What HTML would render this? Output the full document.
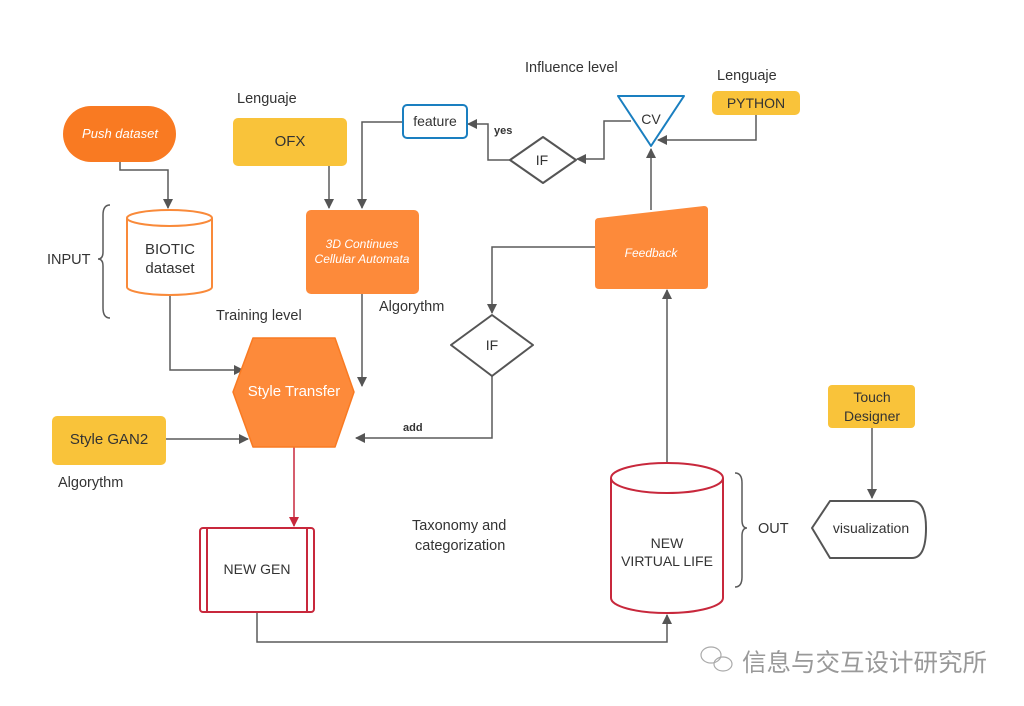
<!DOCTYPE html>
<html><head><meta charset="utf-8"><style>
html,body{margin:0;padding:0;background:#fff;}
svg{display:block;font-family:"Liberation Sans","Noto Sans CJK SC",sans-serif;}
</style></head><body>
<svg width="1024" height="706" viewBox="0 0 1024 706" xmlns="http://www.w3.org/2000/svg">
<defs>
<marker id="a" markerWidth="10" markerHeight="10" refX="9" refY="5" orient="auto" markerUnits="userSpaceOnUse"><path d="M0,0 L10,5 L0,10 z" fill="#555"/></marker>
<marker id="r" markerWidth="10" markerHeight="10" refX="9" refY="5" orient="auto" markerUnits="userSpaceOnUse"><path d="M0,0 L10,5 L0,10 z" fill="#c8283c"/></marker>
</defs>
<rect width="1024" height="706" fill="#fff"/>
<g fill="none" stroke="#5a5a5a" stroke-width="1.5">
<path d="M120,162 V170 H168 V208" marker-end="url(#a)"/>
<path d="M329,166 V208" marker-end="url(#a)"/>
<path d="M403,122 H362 V208" marker-end="url(#a)"/>
<path d="M170,295 V370 H243" marker-end="url(#a)"/>
<path d="M362,294 V386" marker-end="url(#a)"/>
<path d="M166,439 H248" marker-end="url(#a)"/>
<path d="M492,376 V438 H356" marker-end="url(#a)"/>
<path d="M595,247 H492 V313" marker-end="url(#a)"/>
<path d="M257,612 V642 H667 V615" marker-end="url(#a)"/>
<path d="M667,463 V290" marker-end="url(#a)"/>
<path d="M651,210 V149" marker-end="url(#a)"/>
<path d="M756,115 V140 H658" marker-end="url(#a)"/>
<path d="M631,121 H604 V159 H577" marker-end="url(#a)"/>
<path d="M510,160 H488 V124 H468" marker-end="url(#a)"/>
<path d="M872,428 V498" marker-end="url(#a)"/>
<path d="M110,205 Q103,205 103,215 V252 Q103,259 98,259 Q103,259 103,266 V308 Q103,318 110,318"/>
<path d="M735,473 Q742,473 742,483 V520 Q742,528 747,528 Q742,528 742,536 V577 Q742,587 735,587"/>
</g>
<path d="M294,447 V526" stroke="#c8283c" stroke-width="1.5" fill="none" marker-end="url(#r)"/>
<rect x="63" y="106" width="113" height="56" rx="28" fill="#f97a22"/>
<text x="120" y="138" fill="#fff" font-size="13" font-style="italic" text-anchor="middle">Push dataset</text>
<path d="M127,218 V287 A42.5,8 0 0 0 212,287 V218" fill="#fff" stroke="#f98a3a" stroke-width="2"/>
<ellipse cx="169.5" cy="218" rx="42.5" ry="8" fill="#fff" stroke="#f98a3a" stroke-width="2"/>
<text x="170" y="254" font-size="15" fill="#333" text-anchor="middle">BIOTIC</text>
<text x="170" y="273" font-size="15" fill="#333" text-anchor="middle">dataset</text>
<rect x="233" y="118" width="114" height="48" rx="5" fill="#f9c33a"/>
<text x="290" y="146" font-size="15" fill="#333" text-anchor="middle">OFX</text>
<rect x="306" y="210" width="113" height="84" rx="5" fill="#fd8a3a"/>
<text x="362" y="248" font-size="12" font-style="italic" fill="#fff" text-anchor="middle">3D Continues</text>
<text x="362" y="263" font-size="12" font-style="italic" fill="#fff" text-anchor="middle">Cellular Automata</text>
<rect x="403" y="105" width="64" height="33" rx="4" fill="#fff" stroke="#1a7fc0" stroke-width="2"/>
<text x="435" y="126" font-size="14" fill="#333" text-anchor="middle">feature</text>
<path d="M543,137 L576,160 L543,183 L510,160 z" fill="#fff" stroke="#555" stroke-width="2" stroke-linejoin="round"/>
<text x="542" y="165" font-size="14" fill="#333" text-anchor="middle">IF</text>
<path d="M618,96 L684,96 L651,146 z" fill="#fff" stroke="#1a7fc0" stroke-width="2" stroke-linejoin="round"/>
<text x="651" y="124" font-size="14" fill="#333" text-anchor="middle">CV</text>
<rect x="712" y="91" width="88" height="24" rx="5" fill="#f9c33a"/>
<text x="756" y="108" font-size="14" fill="#333" text-anchor="middle">PYTHON</text>
<path d="M599,218 L704,206 Q708,206 708,210 V285 Q708,289 704,289 H599 Q595,289 595,285 V222 Q595,218 599,218 z" fill="#fd8a3a"/>
<text x="651" y="257" font-size="12" font-style="italic" fill="#fff" text-anchor="middle">Feedback</text>
<path d="M492,315 L533,345 L492,376 L451,345 z" fill="#fff" stroke="#555" stroke-width="2" stroke-linejoin="round"/>
<text x="492" y="350" font-size="14" fill="#333" text-anchor="middle">IF</text>
<path d="M253,338 L335,338 L354,392 L335,447 L253,447 L233,392 z" fill="#fd8a3a" stroke="#f97a22" stroke-width="1.5" stroke-linejoin="round"/>
<text x="294" y="396" font-size="15" fill="#fff" text-anchor="middle">Style Transfer</text>
<rect x="52" y="416" width="114" height="49" rx="5" fill="#f9c33a"/>
<text x="109" y="444" font-size="15" fill="#333" text-anchor="middle">Style GAN2</text>
<rect x="200" y="528" width="114" height="84" rx="3" fill="#fff" stroke="#c8283c" stroke-width="2"/>
<path d="M207,528 V612 M307,528 V612" stroke="#c8283c" stroke-width="2"/>
<text x="257" y="574" font-size="14" fill="#333" text-anchor="middle">NEW GEN</text>
<path d="M611,478 V598 A56,15 0 0 0 723,598 V478" fill="#fff" stroke="#c8283c" stroke-width="2"/>
<ellipse cx="667" cy="478" rx="56" ry="15" fill="#fff" stroke="#c8283c" stroke-width="2"/>
<text x="667" y="548" font-size="14" fill="#333" text-anchor="middle">NEW</text>
<text x="667" y="566" font-size="14" fill="#333" text-anchor="middle">VIRTUAL LIFE</text>
<rect x="828" y="385" width="87" height="43" rx="4" fill="#f9c33a"/>
<text x="872" y="402" font-size="14" fill="#333" text-anchor="middle">Touch</text>
<text x="872" y="421" font-size="14" fill="#333" text-anchor="middle">Designer</text>
<path d="M812,528 L830,501 H912 Q926,501 926,528 Q926,558 912,558 H830 z" fill="#fff" stroke="#555" stroke-width="2" stroke-linejoin="round"/>
<text x="871" y="533" font-size="14" fill="#333" text-anchor="middle">visualization</text>
<g font-size="14.5" fill="#333">
<text x="237" y="103">Lenguaje</text>
<text x="525" y="72">Influence level</text>
<text x="717" y="80">Lenguaje</text>
<text x="216" y="320">Training level</text>
<text x="379" y="311">Algorythm</text>
<text x="58" y="487">Algorythm</text>
<text x="47" y="264">INPUT</text>
<text x="412" y="530">Taxonomy and</text>
<text x="415" y="550">categorization</text>
<text x="758" y="533">OUT</text>
</g>
<text x="403" y="431" font-size="11" font-weight="bold" fill="#333">add</text>
<text x="494" y="134" font-size="11" font-weight="bold" fill="#333">yes</text>
<g fill="none" stroke="#aaa" stroke-width="1.2">
<ellipse cx="711" cy="655" rx="10" ry="8"/>
<ellipse cx="723" cy="664" rx="9" ry="7"/>
</g>
<text x="742" y="671" font-size="24.5" fill="#999">信息与交互设计研究所</text>
</svg>
</body></html>
